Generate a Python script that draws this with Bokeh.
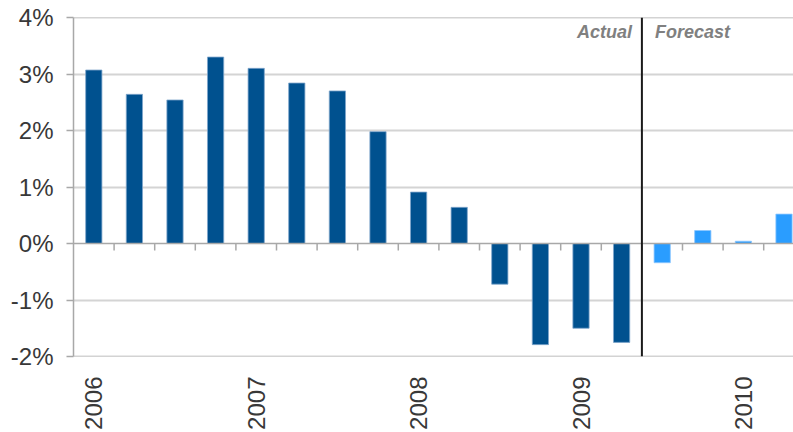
import math
from bokeh.plotting import figure
from bokeh.models import Range1d, FixedTicker, Span, Label, ColumnDataSource
from bokeh.embed import file_html
from bokeh.resources import INLINE

# ---- data ----
quarters = [f"{y} Q{q}" for y in range(2006, 2011) for q in range(1, 5)][:18]
actual_values = [3.07, 2.64, 2.54, 3.30, 3.10, 2.84, 2.70, 1.98,
                 0.91, 0.64, -0.72, -1.79, -1.50, -1.75]
forecast_values = [-0.34, 0.23, 0.04, 0.52]
year_labels = ["2006", "2007", "2008", "2009", "2010"]
y_ticks = [-2, -1, 0, 1, 2, 3, 4]
y_tick_labels = ["-2%", "-1%", "0%", "1%", "2%", "3%", "4%"]

# ---- layout / style ----
W, H = 793, 432
LEFT, TOP, BOTTOM = 73, 17, 76
DARK = "#00518F"
LIGHT = "#2A9DFF"
FONT = "Liberation Sans"
TXT = "#383838"

n_cat = len(quarters)
n_act = len(actual_values)
cat_px = 40.6
x_end = (W - LEFT) / cat_px

p = figure(width=W, height=H, output_backend="svg", toolbar_location=None,
           x_range=Range1d(0, x_end), y_range=Range1d(y_ticks[0], y_ticks[-1]),
           min_border_left=LEFT, min_border_top=TOP, min_border_bottom=BOTTOM,
           min_border_right=0)
p.outline_line_color = None
p.background_fill_color = "white"
p.border_fill_color = "white"

# grid
p.xgrid.visible = False
p.ygrid.ticker = FixedTicker(ticks=[t for t in y_ticks if t not in (y_ticks[0], 0, y_ticks[-1])])
p.ygrid.grid_line_color = "#D4D4D4"
p.ygrid.grid_line_width = 2

for loc in (y_ticks[0], 0, y_ticks[-1]):
    p.add_layout(Span(location=loc, dimension="width", line_color="#A8A8A8", line_width=1.5))

# y axis
ya = p.yaxis[0]
ya.ticker = FixedTicker(ticks=y_ticks)
ya.major_label_overrides = {t: l for t, l in zip(y_ticks, y_tick_labels)}
ya.axis_line_color = "#A8A8A8"
ya.axis_line_width = 1.5
ya.major_tick_line_color = "#A8A8A8"
ya.major_tick_line_width = 1.5
ya.major_tick_out = 7
ya.major_tick_in = 0
ya.minor_tick_line_color = None
ya.major_label_text_font = FONT
ya.major_label_text_font_size = "24px"
ya.major_label_text_color = TXT
ya.major_label_standoff = 13

# x axis (year labels)
xa = p.xaxis[0]
year_pos = [quarters.index(f"{y} Q1") + 0.5 for y in year_labels]
xa.ticker = FixedTicker(ticks=year_pos)
xa.major_label_overrides = {pos: y for pos, y in zip(year_pos, year_labels)}
xa.major_label_orientation = math.pi / 2
xa.axis_line_color = None
xa.major_tick_line_color = None
xa.minor_tick_line_color = None
xa.major_label_text_font = FONT
xa.major_label_text_font_size = "24px"
xa.major_label_text_color = TXT
xa.major_label_standoff = 14

# bars
act_src = ColumnDataSource(dict(x=[i + 0.5 for i in range(n_act)], top=actual_values))
fc_src = ColumnDataSource(dict(x=[n_act + i + 0.5 for i in range(len(forecast_values))], top=forecast_values))
p.vbar(x="x", top="top", bottom=0, width=0.4, source=act_src,
       fill_color=DARK, line_color="#7FA6CC", line_width=0.8)
p.vbar(x="x", top="top", bottom=0, width=0.4, source=fc_src,
       fill_color=LIGHT, line_color="#8CC6FF", line_width=0.8)

# tick marks on zero line at category boundaries
px_per_unit = (H - TOP - BOTTOM) / (y_ticks[-1] - y_ticks[0])
tick_len = 7 / px_per_unit
bx = list(range(1, n_cat + 1))
p.segment(x0=bx, y0=[0] * len(bx), x1=bx, y1=[-tick_len] * len(bx),
          line_color="#A8A8A8", line_width=1.5)

# actual / forecast divider
p.add_layout(Span(location=n_act, dimension="height", line_color="#1A1A1A", line_width=2))
p.add_layout(Label(x=n_act, y=y_ticks[-1], text="Actual", x_offset=-10, y_offset=-4,
                   text_align="right", text_baseline="top", text_font=FONT,
                   text_font_size="18px", text_font_style="bold italic", text_color="#808080"))
p.add_layout(Label(x=n_act, y=y_ticks[-1], text="Forecast", x_offset=13, y_offset=-4,
                   text_align="left", text_baseline="top", text_font=FONT,
                   text_font_size="18px", text_font_style="bold italic", text_color="#808080"))

open("out.html", "w").write(file_html(p, INLINE))
